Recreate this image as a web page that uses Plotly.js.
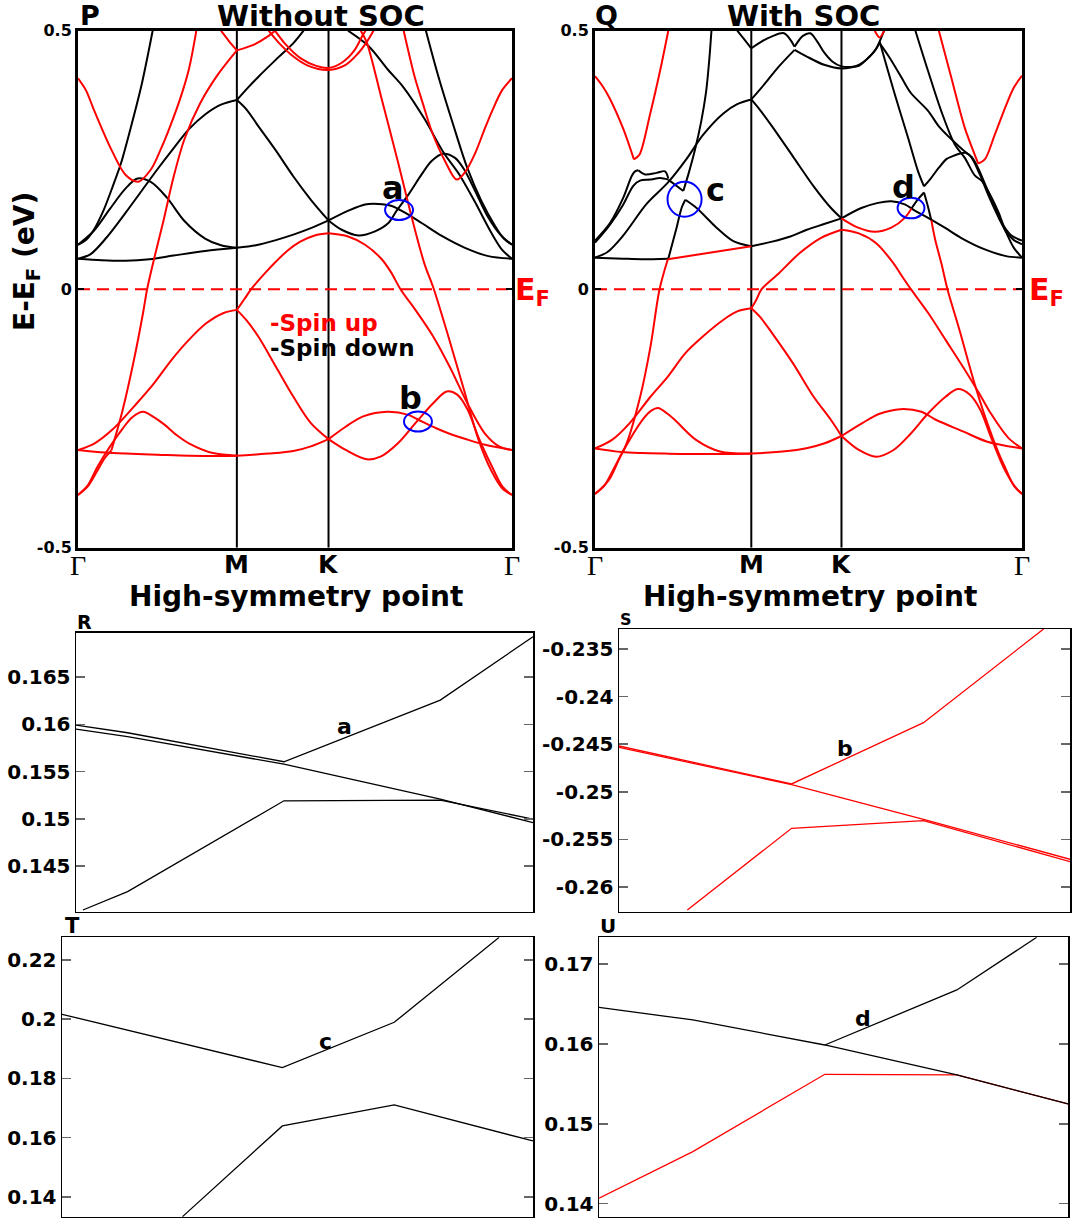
<!DOCTYPE html>
<html><head><meta charset="utf-8">
<script src="https://cdn.plot.ly/plotly-3.0.1.min.js"></script>
<style>html,body{margin:0;padding:0;background:#fff}#chart{width:1075px;height:1218px}</style>
</head><body><div id="chart"></div>
<script>
// ---------- high-symmetry path (k-path units) ----------
const kSym = [0, 1.0, 1.577, 2.732];
const kSymLabels = ['Γ', 'M', 'K', 'Γ'];
const bandTicks = [-0.5, 0, 0.5];
const bandTickText = ['-0.5', '0', '0.5'];

// ---------- Panel P (without SOC): spin down (black) ----------
const pDn_a = [[0,0.086],[0.05,0.095],[0.1,0.115],[0.16,0.152],[0.22,0.2],[0.27,0.243],[0.33,0.31],[0.40,0.395],[0.47,0.5]];
const pDn_b = [[0,0.086],[0.1,0.113],[0.2,0.155],[0.3,0.195],[0.375,0.214],[0.46,0.207],[0.56,0.177],[0.67,0.132],[0.8,0.098],[0.9,0.085],[1.0,0.08]];
const pDn_c = [[0,0.059],[0.08,0.068],[0.18,0.1],[0.3,0.148],[0.4,0.19],[0.5,0.232],[0.6,0.272],[0.7,0.31],[0.8,0.338],[0.9,0.357],[1.0,0.366]];
const pDn_d = [[0,0.059],[0.15,0.056],[0.3,0.055],[0.45,0.058],[0.6,0.065],[0.8,0.074],[1.0,0.08]];
const pDn_e = [[1.0,0.366],[1.06,0.348],[1.136,0.315],[1.246,0.268],[1.356,0.218],[1.466,0.173],[1.577,0.133]];
const pDn_f = [[1.0,0.366],[1.07,0.39],[1.136,0.411],[1.246,0.444],[1.356,0.476],[1.42,0.5]];
const pDn_g = [[1.0,0.08],[1.12,0.085],[1.246,0.095],[1.36,0.106],[1.466,0.118],[1.577,0.133]];
const pDn_h = [[1.577,0.133],[1.702,0.152],[1.807,0.164],[1.89,0.165],[1.975,0.161],[2.058,0.148],[2.163,0.128],[2.29,0.103],[2.436,0.08],[2.583,0.064],[2.732,0.059]];
const pDn_i = [[1.577,0.133],[1.66,0.115],[1.765,0.104],[1.87,0.112],[1.954,0.128],[2.006,0.152],[2.08,0.183],[2.163,0.222],[2.226,0.248],[2.3,0.262],[2.373,0.254],[2.43,0.232],[2.5,0.19],[2.58,0.14],[2.66,0.105],[2.732,0.086]];
const pDn_j = [[1.70,0.5],[1.83,0.47],[1.95,0.425],[2.05,0.39],[2.18,0.33],[2.3,0.265],[2.4,0.222],[2.5,0.168],[2.6,0.11],[2.67,0.076],[2.732,0.059]];
const pDn_k = [[2.19,0.5],[2.27,0.41],[2.36,0.32],[2.45,0.235],[2.54,0.17],[2.62,0.125],[2.68,0.098],[2.732,0.086]];

// ---------- Panel P: spin up (red) ----------
const pUp_a = [[0,0.408],[0.05,0.385],[0.1,0.347],[0.21,0.27],[0.3,0.221],[0.38,0.208],[0.46,0.232],[0.52,0.27],[0.58,0.315],[0.65,0.375],[0.7,0.428],[0.745,0.5]];
const pUp_b = [[2.05,0.5],[2.12,0.41],[2.17,0.36],[2.226,0.306],[2.31,0.248],[2.384,0.212],[2.44,0.228],[2.5,0.263],[2.56,0.31],[2.61,0.347],[2.67,0.385],[2.732,0.408]];
const pUp_c1 = [[0,-0.398],[0.06,-0.382],[0.12,-0.352],[0.17,-0.326],[0.21,-0.312]];
const pUp_c2 = [[0.21,-0.312],[0.28,-0.235],[0.35,-0.14],[0.41,-0.045],[0.435,0],[0.48,0.06],[0.54,0.135],[0.6,0.215],[0.67,0.29],[0.77,0.36],[0.88,0.415],[1.0,0.462]];
const pUp_d = [[0,-0.311],[0.17,-0.316],[0.3,-0.318],[0.5,-0.32],[0.7,-0.322],[1.0,-0.322],[1.2,-0.318],[1.356,-0.313],[1.466,-0.304],[1.577,-0.29]];
const pUp_e = [[0,-0.311],[0.105,-0.298],[0.215,-0.272],[0.369,-0.221],[0.478,-0.182],[0.588,-0.137],[0.698,-0.098],[0.807,-0.066],[0.917,-0.046],[1.0,-0.04]];
const pUp_f = [[0,-0.398],[0.06,-0.38],[0.12,-0.345],[0.2,-0.305],[0.28,-0.27],[0.34,-0.248],[0.41,-0.237],[0.48,-0.248],[0.544,-0.262],[0.62,-0.282],[0.698,-0.298],[0.85,-0.317],[1.0,-0.322]];
const pUp_g = [[1.0,-0.04],[1.06,-0.06],[1.136,-0.092],[1.246,-0.15],[1.356,-0.208],[1.466,-0.259],[1.577,-0.29]];
const pUp_h = [[1.0,-0.04],[1.05,-0.018],[1.09,0],[1.18,0.032],[1.245,0.053],[1.32,0.075],[1.399,0.092],[1.49,0.104],[1.577,0.108]];
const pUp_i = [[1.577,0.108],[1.7,0.102],[1.807,0.086],[1.912,0.058],[1.97,0.033],[2.03,0],[2.124,-0.04],[2.233,-0.09],[2.343,-0.152],[2.453,-0.222],[2.563,-0.28],[2.65,-0.304],[2.732,-0.311]];
const pUp_j = [[1.78,0.5],[1.817,0.478],[1.91,0.37],[2.015,0.245],[2.1,0.14],[2.18,0.05],[2.24,0],[2.33,-0.09],[2.43,-0.195],[2.52,-0.29],[2.6,-0.35],[2.67,-0.385],[2.732,-0.398]];
const pUp_k = [[1.577,-0.29],[1.685,-0.266],[1.795,-0.246],[1.948,-0.237],[2.08,-0.243],[2.146,-0.253],[2.255,-0.269],[2.343,-0.28],[2.453,-0.291],[2.563,-0.301],[2.732,-0.311]];
const pUp_l = [[1.577,-0.29],[1.685,-0.311],[1.817,-0.329],[1.904,-0.324],[2.014,-0.298],[2.124,-0.259],[2.234,-0.221],[2.321,-0.198],[2.387,-0.204],[2.453,-0.233],[2.519,-0.285],[2.606,-0.343],[2.672,-0.382],[2.732,-0.398]];
const pUp_m = [[0.9,0.5],[0.95,0.48],[1.0,0.462]];
const pUp_n = [[1.0,0.462],[1.1,0.472],[1.2,0.49],[1.24,0.5]];
const pUp_o = [[1.2,0.5],[1.26,0.478],[1.356,0.45],[1.45,0.432],[1.577,0.424],[1.685,0.434],[1.76,0.455],[1.817,0.478],[1.86,0.5]];
const pUp_p = [[1.24,0.5],[1.3,0.476],[1.4,0.447],[1.5,0.432],[1.577,0.428],[1.66,0.438],[1.74,0.462],[1.79,0.49],[1.81,0.5]];

// ---------- Panel Q (with SOC): black segments ----------
const qDn_a = [[0,0.061],[0.181,0.059],[0.3,0.058],[0.469,0.059]];
const qDn_b = [[0,0.061],[0.08,0.072],[0.181,0.104],[0.33,0.165],[0.466,0.206],[0.586,0.252],[0.69,0.298],[0.821,0.34],[0.91,0.358],[1.0,0.367]];
const qDn_c1 = [[0.469,0.059],[0.522,0.119],[0.555,0.158],[0.578,0.173]];
const qDn_c2 = [[0.578,0.173],[0.65,0.157],[0.778,0.119],[0.885,0.093],[1.0,0.083]];
const qDn_d = [[0.565,0.19],[0.6,0.225],[0.64,0.27],[0.68,0.325],[0.71,0.38],[0.73,0.44],[0.745,0.5]];
const qDn_e1 = [[0,0.09],[0.096,0.125],[0.181,0.164],[0.245,0.2],[0.288,0.21],[0.352,0.212],[0.416,0.215],[0.469,0.212]];
const qDn_e2 = [[0.469,0.212],[0.565,0.19]];
const qDn_f1 = [[0,0.094],[0.096,0.128],[0.181,0.177],[0.235,0.219],[0.256,0.228],[0.277,0.23]];
const qDn_f2 = [[0.277,0.23],[0.32,0.222],[0.394,0.225],[0.448,0.228],[0.469,0.214]];
const qDn_g1 = [[1.0,0.367],[1.088,0.398],[1.177,0.431],[1.277,0.463]];
const qDn_g2 = [[1.277,0.463],[1.355,0.45],[1.466,0.434],[1.577,0.427],[1.688,0.434],[1.777,0.456],[1.821,0.476]];
const qDn_h0 = [[0.91,0.5],[0.95,0.485],[1.0,0.466]];
const qDn_h1 = [[1.0,0.466],[1.07,0.48],[1.133,0.489],[1.21,0.495],[1.277,0.469]];
const qDn_h2 = [[1.277,0.469],[1.33,0.49],[1.377,0.495],[1.42,0.48],[1.466,0.458],[1.52,0.44],[1.577,0.431],[1.64,0.43],[1.688,0.432],[1.75,0.448],[1.799,0.465],[1.821,0.479],[1.85,0.5]];
const qDn_i = [[1.0,0.367],[1.06,0.345],[1.133,0.315],[1.266,0.257],[1.399,0.199],[1.51,0.157],[1.577,0.137]];
const qDn_j = [[1.0,0.083],[1.133,0.092],[1.25,0.102],[1.355,0.115],[1.466,0.126],[1.577,0.137]];
const qDn_k = [[1.577,0.137],[1.704,0.157],[1.811,0.167],[1.896,0.17],[1.982,0.164],[2.046,0.152],[2.131,0.138],[2.238,0.119],[2.344,0.099],[2.494,0.077],[2.63,0.064],[2.732,0.061]];
const qDn_l1 = [[2.025,0.156],[2.067,0.174],[2.105,0.187]];
const qDn_l2 = [[2.105,0.187],[2.13,0.16],[2.152,0.133]];
const qDn_m1 = [[1.821,0.479],[1.918,0.377],[2.003,0.293],[2.067,0.228],[2.105,0.199]];
const qDn_m2 = [[2.105,0.199],[2.15,0.215],[2.2,0.235],[2.25,0.252],[2.285,0.257],[2.33,0.262],[2.37,0.264],[2.41,0.256],[2.45,0.235],[2.5,0.2],[2.55,0.165],[2.6,0.13],[2.66,0.105],[2.732,0.094]];
const qDn_n = [[1.821,0.476],[1.88,0.45],[1.96,0.41],[2.02,0.38],[2.131,0.345],[2.2,0.315],[2.28,0.29],[2.344,0.272],[2.408,0.255],[2.462,0.222],[2.515,0.183],[2.58,0.14],[2.63,0.11],[2.68,0.08],[2.732,0.061]];
const qDn_o = [[2.05,0.5],[2.131,0.422],[2.216,0.344],[2.302,0.28],[2.366,0.254],[2.43,0.22],[2.473,0.21],[2.515,0.19],[2.58,0.15],[2.63,0.112],[2.68,0.095],[2.732,0.087]];

// ---------- Panel Q: red segments ----------
const qUp_a1 = [[0,0.412],[0.05,0.392],[0.096,0.368],[0.181,0.31],[0.249,0.251]];
const qUp_a2 = [[0.249,0.251],[0.284,0.26],[0.352,0.338],[0.416,0.422],[0.469,0.5]];
const qUp_b1 = [[2.2,0.5],[2.28,0.409],[2.366,0.312],[2.43,0.26],[2.452,0.243]];
const qUp_b2 = [[2.452,0.243],[2.494,0.251],[2.558,0.299],[2.632,0.357],[2.68,0.39],[2.732,0.413]];
const qUp_c1 = [[0,-0.396],[0.06,-0.38],[0.12,-0.347],[0.17,-0.318]];
const qUp_c2 = [[0.17,-0.318],[0.2,-0.3],[0.289,-0.208],[0.355,-0.111],[0.413,0],[0.466,0.058]];
const qUp_d = [[0.466,0.058],[1.0,0.083]];
const qUp_e = [[0,-0.308],[0.17,-0.315],[0.3,-0.317],[0.45,-0.318],[0.7,-0.319],[1.0,-0.318],[1.2,-0.314],[1.36,-0.307],[1.47,-0.298],[1.577,-0.284]];
const qUp_f = [[0,-0.308],[0.111,-0.291],[0.222,-0.259],[0.355,-0.208],[0.466,-0.169],[0.577,-0.124],[0.688,-0.092],[0.822,-0.059],[0.91,-0.043],[1.0,-0.037]];
const qUp_g = [[0,-0.396],[0.089,-0.369],[0.16,-0.325],[0.222,-0.291],[0.311,-0.25],[0.36,-0.235],[0.404,-0.23],[0.46,-0.24],[0.511,-0.253],[0.644,-0.291],[0.8,-0.314],[1.0,-0.318]];
const qUp_h = [[1.0,-0.037],[1.06,-0.055],[1.133,-0.085],[1.266,-0.143],[1.399,-0.208],[1.51,-0.253],[1.577,-0.284]];
const qUp_i = [[1.0,-0.037],[1.03,-0.022],[1.066,0],[1.177,0.031],[1.31,0.07],[1.444,0.099],[1.577,0.115]];
const qUp_j = [[1.577,0.115],[1.688,0.108],[1.799,0.089],[1.91,0.05],[1.96,0.027],[2.021,0],[2.132,-0.046],[2.243,-0.098],[2.354,-0.15],[2.465,-0.205],[2.532,-0.24],[2.643,-0.287],[2.732,-0.308]];
const qUp_k = [[1.577,0.137],[1.683,0.119],[1.79,0.111],[1.896,0.119],[1.982,0.138],[2.025,0.156]];
const qUp_l = [[2.152,0.133],[2.177,0.095],[2.216,0.05],[2.255,0],[2.332,-0.079],[2.421,-0.175],[2.51,-0.259],[2.58,-0.315],[2.621,-0.343],[2.68,-0.38],[2.732,-0.396]];
const qUp_m = [[1.577,-0.284],[1.71,-0.259],[1.821,-0.241],[1.954,-0.232],[2.088,-0.237],[2.177,-0.252],[2.354,-0.275],[2.51,-0.295],[2.732,-0.308]];
const qUp_n = [[1.577,-0.284],[1.688,-0.311],[1.799,-0.324],[1.91,-0.311],[2.021,-0.279],[2.132,-0.24],[2.243,-0.208],[2.321,-0.193],[2.399,-0.204],[2.465,-0.233],[2.532,-0.285],[2.621,-0.349],[2.687,-0.382],[2.732,-0.396]];
const qUp_o = [[1.79,0.5],[1.821,0.487],[1.85,0.5]];

// ---------- zoomed crossings (x = k-point index) ----------
const rLineX = [[-0.33,0.15992],[0,0.15911],[1,0.15604],[2,0.16257],[2.593,0.16927]];
const rLineY = [[-0.33,0.1595],[0,0.15869],[1,0.15579],[2,0.15209],[2.593,0.1496]];
const rLineZ = [[-0.286,0.14035],[0,0.14229],[1,0.15191],[2,0.15198],[2.593,0.14997]];
const rTicks = [0.145, 0.15, 0.155, 0.16, 0.165];
const rTickText = ['0.145', '0.15', '0.155', '0.16', '0.165'];

const sLineX = [[-0.308,-0.24519],[1,-0.24918],[2,-0.24274],[2.91,-0.2329]];
const sLineY = [[-0.308,-0.24533],[1,-0.24925],[2,-0.25289],[3.11,-0.25709]];
const sLineZ = [[0.21,-0.26241],[1,-0.25384],[2,-0.25303],[3.11,-0.25734]];
const sTicks = [-0.26, -0.255, -0.25, -0.245, -0.24, -0.235];
const sTickText = ['-0.26', '-0.255', '-0.25', '-0.245', '-0.24', '-0.235'];

const tUpper = [[-0.969,0.20166],[1,0.18366],[2,0.19896],[2.938,0.22765]];
const tLower = [[0.108,0.13336],[1,0.16396],[2,0.17105],[3.24,0.1589]];
const tTicks = [0.14, 0.16, 0.18, 0.2, 0.22];
const tTickText = ['0.14', '0.16', '0.18', '0.2', '0.22'];

const uRed = [[-0.711,0.14067],[0,0.14651],[1,0.15619],[2,0.15611],[2.842,0.15248]];
const uBlackA = [[-0.711,0.16458],[0,0.16299],[1,0.15986],[2,0.15611],[2.842,0.15248]];
const uBlackB = [[1,0.15986],[2,0.16675],[2.605,0.17334]];
const uTicks = [0.14, 0.15, 0.16, 0.17];
const uTickText = ['0.14', '0.15', '0.16', '0.17'];

// ---------- build ----------
const FONT = 'DejaVu Sans, Arial, sans-serif';
const RED = '#ff0000', BLK = '#000000', BLUE = '#0000ff';
const traces = [];
function ax(n, c) { return n === 1 ? c : c + n; }
function addBands(list, color, n, width, shape) {
  list.forEach(b => traces.push({
    type: 'scatter', mode: 'lines', x: b.map(p => p[0]), y: b.map(p => p[1]),
    xaxis: ax(n, 'x'), yaxis: ax(n, 'y'),
    line: { color: color, width: width, shape: shape || 'spline', smoothing: 0.9 },
    hoverinfo: 'skip', showlegend: false
  }));
}
// symmetry lines for P (1) and Q (2)
[1, 2].forEach(n => {
  [kSym[1], kSym[2]].forEach(k => traces.push({type:'scatter', mode:'lines', x:[k,k], y:[bandTicks[0], bandTicks[2]],
    xaxis: ax(n,'x'), yaxis: ax(n,'y'), line:{color:BLK, width:2}, hoverinfo:'skip', showlegend:false}));
});
addBands([pDn_a,pDn_b,pDn_c,pDn_d,pDn_e,pDn_f,pDn_g,pDn_h,pDn_i,pDn_j,pDn_k], BLK, 1, 2);
addBands([pUp_a,pUp_b,pUp_c1,pUp_c2,pUp_d,pUp_e,pUp_f,pUp_g,pUp_h,pUp_i,pUp_j,pUp_k,pUp_l,pUp_m,pUp_n,pUp_o,pUp_p], RED, 1, 2);
addBands([qDn_a,qDn_b,qDn_c1,qDn_c2,qDn_d,qDn_e1,qDn_e2,qDn_f1,qDn_f2,qDn_g1,qDn_g2,qDn_h0,qDn_h1,qDn_h2,qDn_i,qDn_j,qDn_k,qDn_l1,qDn_l2,qDn_m1,qDn_m2,qDn_n,qDn_o], BLK, 2, 2);
addBands([qUp_a1,qUp_a2,qUp_b1,qUp_b2,qUp_c1,qUp_c2,qUp_d,qUp_e,qUp_f,qUp_g,qUp_h,qUp_i,qUp_j,qUp_k,qUp_l,qUp_m,qUp_n,qUp_o], RED, 2, 2);
// Fermi level
[1, 2].forEach(n => traces.push({type:'scatter', mode:'lines', x:[kSym[0], kSym[3]], y:[0,0],
  xaxis: ax(n,'x'), yaxis: ax(n,'y'), line:{color:RED, width:2, dash:'12px,7px'}, hoverinfo:'skip', showlegend:false}));

addBands([rLineX, rLineY, rLineZ], BLK, 3, 1.3, 'linear');
addBands([sLineX, sLineY, sLineZ], RED, 4, 1.3, 'linear');
addBands([tUpper, tLower], BLK, 5, 1.3, 'linear');
addBands([uRed], RED, 6, 1.3, 'linear');
addBands([uBlackA, uBlackB], BLK, 6, 1.3, 'linear');

const W = 1075, H = 1218;
const px = x => x / W, py = y => 1 - y / H;

function bandAxes(dx) {
  return [
    { domain: dx, range: [kSym[0], kSym[3]], showline: true, mirror: true, linewidth: 3, linecolor: BLK,
      showticklabels: false, ticks: '', showgrid: false, zeroline: false, fixedrange: true },
    { domain: [py(547.7), py(30.7)], range: [bandTicks[0], bandTicks[2]], showline: true, mirror: 'ticks', linewidth: 3, linecolor: BLK,
      tickvals: bandTicks, ticktext: bandTickText.map(t => '<b>' + t + '</b>'), ticks: 'inside', ticklen: 6, tickwidth: 1.5, tickcolor: BLK,
      tickfont: { family: FONT, size: 16, color: BLK }, showgrid: false, zeroline: false, fixedrange: true }
  ];
}
function zoomAxes(dx, dy, xr, yr, tv, tt) {
  return [
    { domain: dx, range: xr, showline: true, mirror: true, linewidth: 1.5, linecolor: BLK,
      showticklabels: false, ticks: '', showgrid: false, zeroline: false, fixedrange: true },
    { domain: dy, range: yr, showline: true, mirror: 'ticks', linewidth: 1.5, linecolor: BLK,
      tickvals: tv, ticktext: tt.map(t => '<b>' + t + '</b>'), ticks: 'inside', ticklen: 9, tickwidth: 1.5, tickcolor: '#666',
      tickfont: { family: FONT, size: 20, color: BLK }, showgrid: false, zeroline: false, fixedrange: true }
  ];
}
const [xa1, ya1] = bandAxes([px(78), px(512)]);
const [xa2, ya2] = bandAxes([px(595), px(1022)]);
const [xa3, ya3] = zoomAxes([px(76), px(533)], [py(911.7), py(632.7)], [-0.33, 2.593], [0.14017, 0.1697], rTicks, rTickText);
const [xa4, ya4] = zoomAxes([px(619), px(1070)], [py(911.7), py(629)], [-0.308, 3.11], [-0.2626, -0.2329], sTicks, sTickText);
const [xa5, ya5] = zoomAxes([px(62), px(533)], [py(1217.3), py(937.3)], [-0.969, 3.24], [0.13313, 0.22765], tTicks, tTickText);
const [xa6, ya6] = zoomAxes([px(599), px(1068)], [py(1217.3), py(937.3)], [-0.711, 2.842], [0.13829, 0.17334], uTicks, uTickText);
[[xa1,ya1,1],[xa2,ya2,2],[xa3,ya3,3],[xa4,ya4,4],[xa5,ya5,5],[xa6,ya6,6]].forEach(([xa,ya,n]) => {
  xa.anchor = ax(n,'y'); ya.anchor = ax(n,'x');
});

const ann = [];
function txt(text, x, y, size, color, opts) {
  ann.push(Object.assign({ text: text, x: x, y: y, xref: 'paper', yref: 'paper', showarrow: false,
    xanchor: 'center', yanchor: 'middle', font: { family: FONT, size: size, color: color || BLK } }, opts || {}));
}
// panel titles
txt('<b>P</b>', px(78), py(16), 27, BLK, { xanchor: 'left' });
txt('<b>Without SOC</b>', px(321), py(16), 29);
txt('<b>Q</b>', px(593), py(16), 27, BLK, { xanchor: 'left' });
txt('<b>With SOC</b>', px(803), py(16), 29);
// axis titles
txt('<b>High-symmetry point</b>', px(296), py(596), 28);
txt('<b>High-symmetry point</b>', px(810), py(596), 28);
txt('<b>E-E<sub>F</sub> (eV)</b>', px(27), py(262), 28, BLK, { textangle: -90 });
// E_F labels
txt('<b>E<sub>F</sub></b>', px(513), py(291), 30, RED, { xanchor: 'left' });
txt('<b>E<sub>F</sub></b>', px(1027), py(291), 30, RED, { xanchor: 'left' });
// legend text
txt('<b>-Spin up</b>', px(268), py(323), 23, RED, { xanchor: 'left' });
txt('<b>-Spin down</b>', px(268), py(348), 23, BLK, { xanchor: 'left' });
// symmetry point labels
[1, 2].forEach(n => kSym.forEach((k, i) => {
  const isG = kSymLabels[i] === 'Γ';
  ann.push({ text: isG ? kSymLabels[i] : '<b>' + kSymLabels[i] + '</b>', x: k, y: py(isG ? 565 : 564), xref: ax(n,'x'), yref: 'paper',
    showarrow: false, xanchor: 'center', yanchor: 'middle',
    font: { family: isG ? 'Liberation Serif, Times New Roman, serif' : FONT, size: isG ? 28 : 25, color: BLK } });
}));
// crossing labels in band panels (data coords)
function dataTxt(t, x, y, n, size) {
  ann.push({ text: '<b>' + t + '</b>', x: x, y: y, xref: ax(n,'x'), yref: ax(n,'y'), showarrow: false,
    xanchor: 'center', yanchor: 'middle', font: { family: FONT, size: size, color: BLK } });
}
dataTxt('a', 1.983, 0.196, 1, 32);
dataTxt('b', 2.09, -0.21, 1, 32);
dataTxt('c', 0.768, 0.192, 2, 32);
dataTxt('d', 1.971, 0.198, 2, 32);
// zoom panel letters and labels
txt('<b>R</b>', px(75), py(622), 19, BLK, { xanchor: 'left' });
txt('<b>S</b>', px(618), py(619), 16, BLK, { xanchor: 'left' });
txt('<b>T</b>', px(63), py(926), 21, BLK, { xanchor: 'left' });
txt('<b>U</b>', px(598), py(926), 20, BLK, { xanchor: 'left' });
dataTxt('a', 1.385, 0.15974, 3, 22);
dataTxt('b', 1.408, -0.24543, 4, 22);
dataTxt('c', 1.385, 0.19243, 5, 22);
dataTxt('d', 1.29, 0.1632, 6, 22);

// blue circles marking the crossings
function circ(cx, cy, rx, ry, n) {
  return { type: 'circle', xref: ax(n,'x'), yref: ax(n,'y'), x0: cx - rx, x1: cx + rx, y0: cy - ry, y1: cy + ry,
    line: { color: BLUE, width: 2 } };
}
const shapes = [
  circ(2.021, 0.153, 0.088, 0.0193, 1),
  circ(2.140, -0.256, 0.088, 0.0193, 1),
  circ(0.573, 0.174, 0.109, 0.0338, 2),
  circ(2.022, 0.157, 0.086, 0.020, 2)
];

const layout = {
  width: W, height: H, margin: { l: 0, r: 0, t: 0, b: 0 }, paper_bgcolor: '#fff', plot_bgcolor: '#fff',
  showlegend: false, font: { family: FONT, color: BLK },
  xaxis: xa1, yaxis: ya1, xaxis2: xa2, yaxis2: ya2, xaxis3: xa3, yaxis3: ya3,
  xaxis4: xa4, yaxis4: ya4, xaxis5: xa5, yaxis5: ya5, xaxis6: xa6, yaxis6: ya6,
  annotations: ann, shapes: shapes
};
Plotly.newPlot('chart', traces, layout, { staticPlot: true, displayModeBar: false });
</script></body></html>
